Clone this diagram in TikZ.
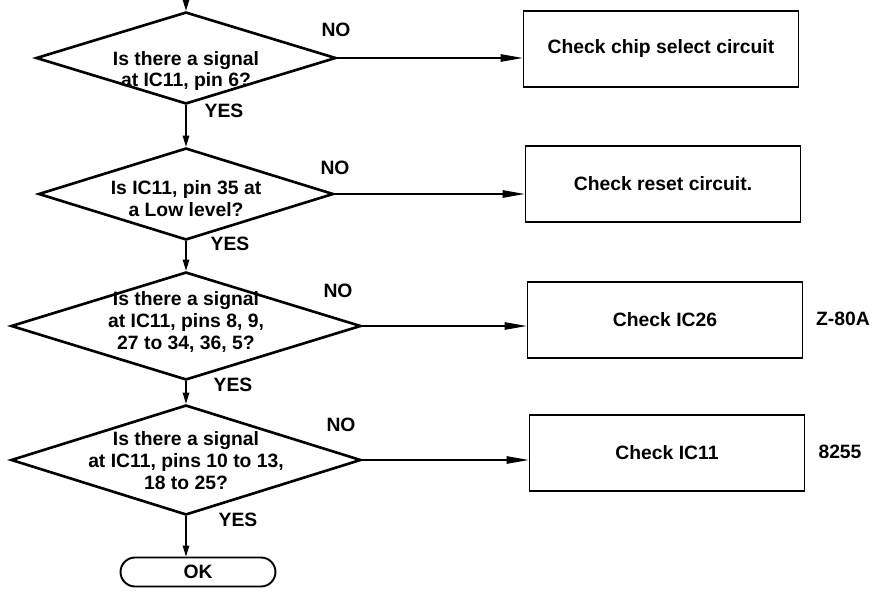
\documentclass[tikz,border=0pt]{standalone}
\usepackage{fontspec}
\setmainfont{Liberation Sans}
\usetikzlibrary{arrows.meta,shapes.geometric}
\tikzset{
  decision/.style={draw, diamond, line width=1.5pt, inner sep=0pt},
  qtext/.style={align=center, inner sep=0pt},
  checkbox/.style={draw, line width=1.1pt, minimum width=5.5cm,
    minimum height=1.52cm, inner sep=0pt},
  terminal/.style={draw, line width=1.1pt, rounded corners=0.29cm,
    minimum width=3.1cm, minimum height=0.58cm, inner sep=0pt},
  yesflow/.style={-{Triangle[length=2.2mm,width=1.3mm]}, line width=0.7pt},
  noflow/.style={-{Triangle[length=4.4mm,width=1.5mm]}, line width=0.6pt},
  tag/.style={inner sep=0pt}
}

\begin{document}
\begin{tikzpicture}[x=0.02cm, y=-0.02cm,
  font=\bfseries\fontsize{11}{12.5}\selectfont]
  \useasboundingbox (0,0) rectangle (877,592);

  % decisions down the left side
  \coordinate (start) at (186,0);
  \node[decision, minimum width=6cm, minimum height=1.84cm] (q1) at (186,58) {};
  \node[qtext] (q1t) at (186,71) {Is there a signal\\at IC11, pin 6?};
  \node[decision, minimum width=5.9cm, minimum height=1.84cm] (q2) at (186,194) {};
  \node[qtext] (q2t) at (186,199) {Is IC11, pin 35 at\\a Low level?};
  \node[decision, minimum width=7cm, minimum height=2.16cm] (q3) at (186,326) {};
  \node[qtext] (q3t) at (186,322) {Is there a signal\\at IC11, pins 8, 9,\\27 to 34, 36, 5?};
  \node[decision, minimum width=7cm, minimum height=2.2cm] (q4) at (186,460) {};
  \node[qtext] (q4t) at (186,461) {Is there a signal\\at IC11, pins 10 to 13,\\18 to 25?};
  \node[terminal] (ok) at (198,572) {OK};

  % checks on the right
  \node[checkbox] (b1) at (661,49) {Check chip select circuit};
  \node[checkbox] (b2) at (663,184) {Check reset circuit.};
  \node[checkbox] (b3) at (665,320) {Check IC26};
  \node[checkbox] (b4) at (667,453) {Check IC11};
  \node[tag] (cpu) at (843,319) {Z-80A};
  \node[tag] (ppi) at (840,452) {8255};

  % yes path
  \draw[yesflow] (start) -- (q1.north);
  \draw[yesflow] (q1.south) -- (q2.north);
  \draw[yesflow] (q2.south) -- (q3.north);
  \draw[yesflow] (q3.south) -- (q4.north);
  \draw[yesflow] (q4.south) -- (q4.south |- ok.north);
  \node[tag] (y1) at (224,111) {YES};
  \node[tag] (y2) at (230,244) {YES};
  \node[tag] (y3) at (233,385) {YES};
  \node[tag] (y4) at (238,520) {YES};

  % no branches
  \draw[noflow] (q1.east) -- (q1.east -| b1.west);
  \draw[noflow] (q2.east) -- (q2.east -| b2.west);
  \draw[noflow] (q3.east) -- (q3.east -| b3.west);
  \draw[noflow] (q4.east) -- (q4.east -| b4.west);
  \node[tag] (n1) at (336,30) {NO};
  \node[tag] (n2) at (335,168) {NO};
  \node[tag] (n3) at (338,291) {NO};
  \node[tag] (n4) at (341,425) {NO};
\end{tikzpicture}
\end{document}
